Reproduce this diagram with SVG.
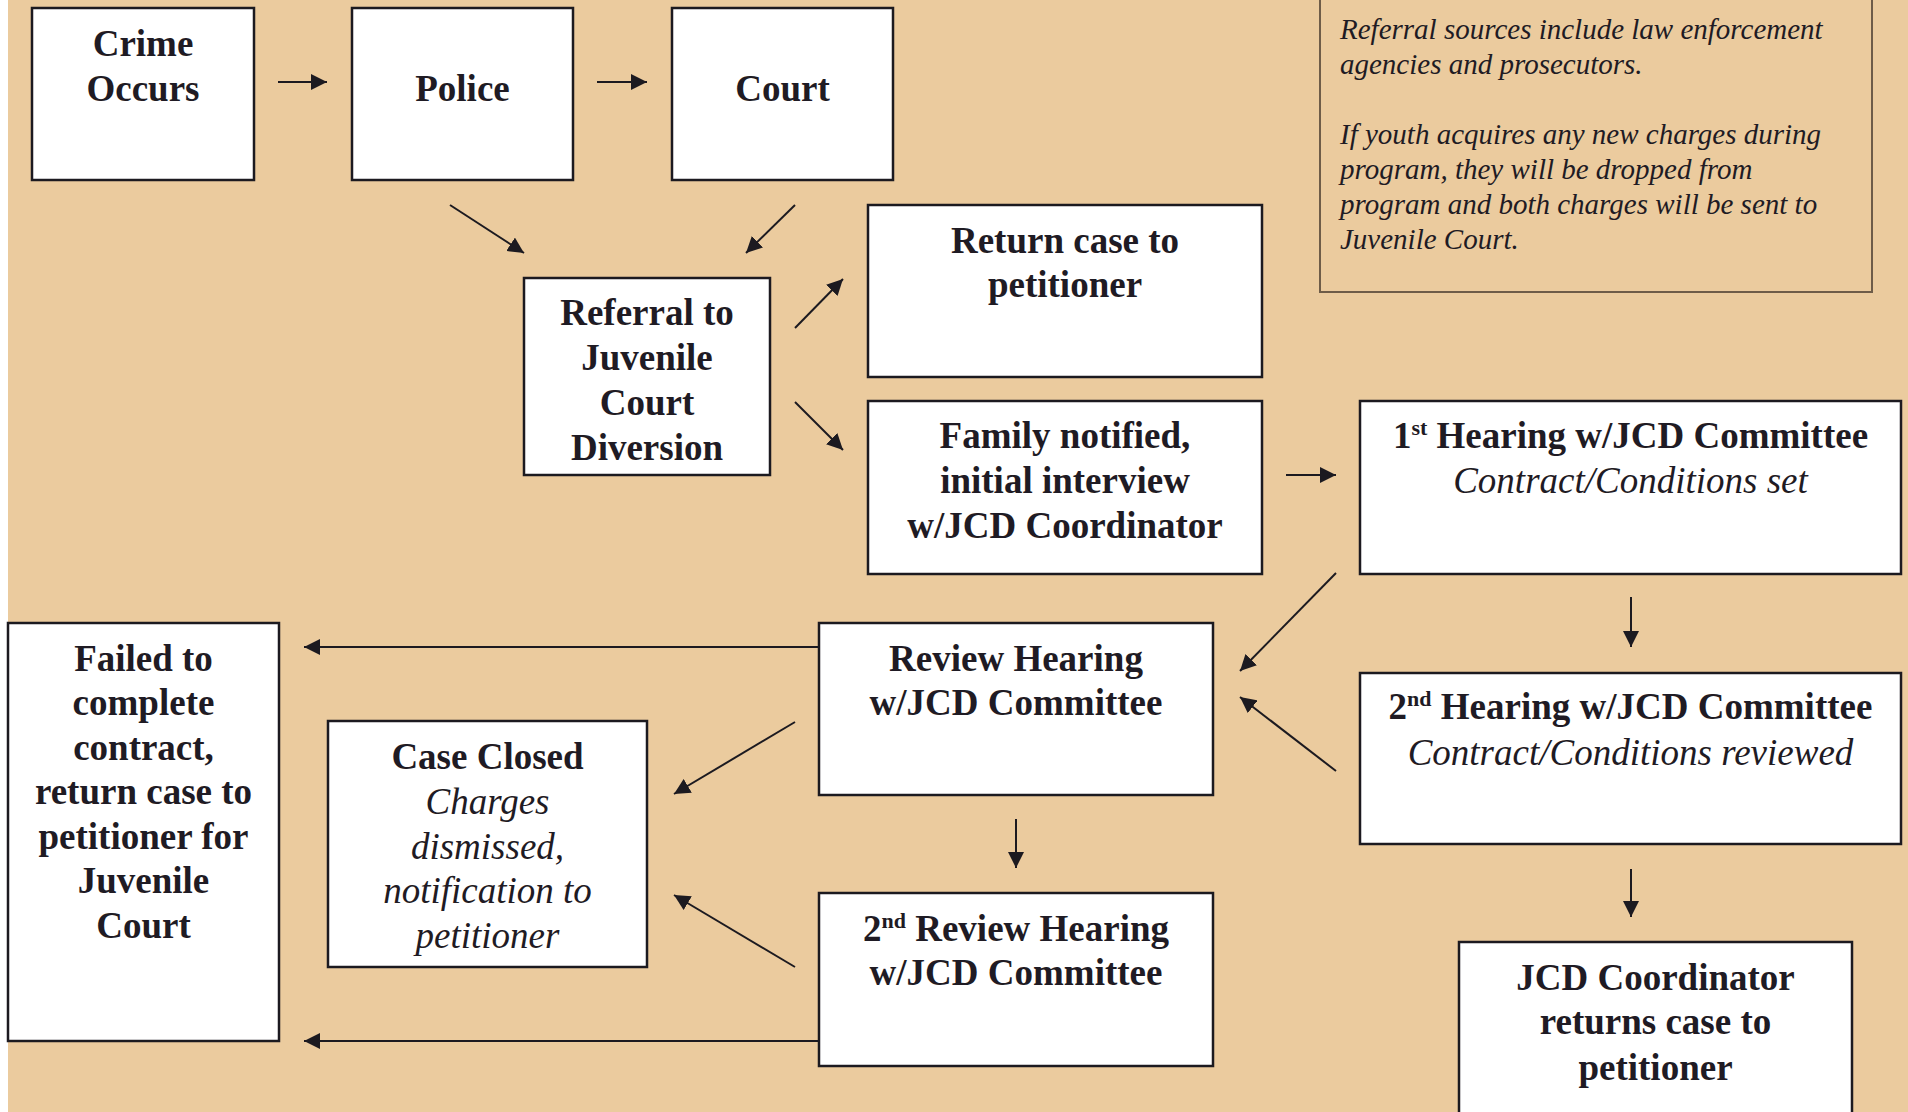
<svg xmlns="http://www.w3.org/2000/svg" width="1908" height="1112" viewBox="0 0 1908 1112">
<defs>
<marker id="ah" viewBox="0 0 16 16" refX="16" refY="8" markerWidth="16" markerHeight="16" markerUnits="userSpaceOnUse" orient="auto">
<path d="M0,0 L16,8 L0,16 z" fill="#1c1a20"/>
</marker>
<style>
.box{fill:#ffffff;stroke:#1c1a20;stroke-width:2.5}
.note{fill:none;stroke:#6e5c48;stroke-width:2}
.b{font-family:"Liberation Serif","Times New Roman",serif;font-weight:bold;font-size:37px;fill:#1f1b24;text-anchor:middle}
.i{font-family:"Liberation Serif","Times New Roman",serif;font-style:italic;font-size:37px;fill:#1f1b24;text-anchor:middle}
.n{font-family:"Liberation Serif","Times New Roman",serif;font-style:italic;font-size:29px;fill:#1f1b24}
.sup{font-size:22px}
.c{stroke:#1c1a20;stroke-width:2;fill:none;marker-end:url(#ah)}
</style>
</defs>
<rect x="0" y="0" width="1908" height="1112" fill="#ffffff"/>
<rect x="8" y="0" width="1900" height="1112" fill="#ebcb9e"/>

<g id="note">
<rect class="note" x="1320" y="-5" width="552" height="297"/>
<text class="n" x="1340" y="39">Referral sources include law enforcement</text>
<text class="n" x="1340" y="74">agencies and prosecutors.</text>
<text class="n" x="1340" y="144">If youth acquires any new charges during</text>
<text class="n" x="1340" y="179">program, they will be dropped from</text>
<text class="n" x="1340" y="214">program and both charges will be sent to</text>
<text class="n" x="1340" y="249">Juvenile Court.</text>
</g>

<g id="crime">
<rect class="box" x="32" y="8" width="222" height="172"/>
<text class="b" x="143" y="56">Crime</text>
<text class="b" x="143" y="101">Occurs</text>
</g>
<g id="police">
<rect class="box" x="352" y="8" width="221" height="172"/>
<text class="b" x="462.5" y="101">Police</text>
</g>
<g id="court">
<rect class="box" x="672" y="8" width="221" height="172"/>
<text class="b" x="782.5" y="101">Court</text>
</g>
<g id="referral">
<rect class="box" x="524" y="278" width="246" height="197"/>
<text class="b" x="647" y="325">Referral to</text>
<text class="b" x="647" y="370">Juvenile</text>
<text class="b" x="647" y="415">Court</text>
<text class="b" x="647" y="460">Diversion</text>
</g>
<g id="return">
<rect class="box" x="868" y="205" width="394" height="172"/>
<text class="b" x="1065" y="253">Return case to</text>
<text class="b" x="1065" y="297">petitioner</text>
</g>
<g id="family">
<rect class="box" x="868" y="401" width="394" height="173"/>
<text class="b" x="1065" y="448">Family notified,</text>
<text class="b" x="1065" y="493">initial interview</text>
<text class="b" x="1065" y="538">w/JCD Coordinator</text>
</g>
<g id="hearing1">
<rect class="box" x="1360" y="401" width="541" height="173"/>
<text class="b" x="1630.5" y="448">1<tspan class="sup" dy="-13">st</tspan><tspan dy="13"> Hearing w/JCD Committee</tspan></text>
<text class="i" x="1630.5" y="493">Contract/Conditions set</text>
</g>
<g id="hearing2">
<rect class="box" x="1360" y="673" width="541" height="171"/>
<text class="b" x="1630.5" y="719">2<tspan class="sup" dy="-13">nd</tspan><tspan dy="13"> Hearing w/JCD Committee</tspan></text>
<text class="i" x="1630.5" y="765">Contract/Conditions reviewed</text>
</g>
<g id="review">
<rect class="box" x="819" y="623" width="394" height="172"/>
<text class="b" x="1016" y="671">Review Hearing</text>
<text class="b" x="1016" y="715">w/JCD Committee</text>
</g>
<g id="review2">
<rect class="box" x="819" y="893" width="394" height="173"/>
<text class="b" x="1016" y="941">2<tspan class="sup" dy="-13">nd</tspan><tspan dy="13"> Review Hearing</tspan></text>
<text class="b" x="1016" y="985">w/JCD Committee</text>
</g>
<g id="jcd">
<rect class="box" x="1459" y="942" width="393" height="200"/>
<text class="b" x="1655.5" y="990">JCD Coordinator</text>
<text class="b" x="1655.5" y="1034">returns case to</text>
<text class="b" x="1655.5" y="1080">petitioner</text>
</g>
<g id="failed">
<rect class="box" x="8" y="623" width="271" height="418"/>
<text class="b" x="143.5" y="671">Failed to</text>
<text class="b" x="143.5" y="715">complete</text>
<text class="b" x="143.5" y="760">contract,</text>
<text class="b" x="143.5" y="804">return case to</text>
<text class="b" x="143.5" y="849">petitioner for</text>
<text class="b" x="143.5" y="893">Juvenile</text>
<text class="b" x="143.5" y="938">Court</text>
</g>
<g id="closed">
<rect class="box" x="328" y="721" width="319" height="246"/>
<text class="b" x="487.5" y="769">Case Closed</text>
<text class="i" x="487.5" y="814">Charges</text>
<text class="i" x="487.5" y="859">dismissed,</text>
<text class="i" x="487.5" y="903">notification to</text>
<text class="i" x="487.5" y="948">petitioner</text>
</g>

<g id="connectors">
<line class="c" x1="278" y1="82" x2="327" y2="82"/>
<line class="c" x1="597" y1="82" x2="647" y2="82"/>
<line class="c" x1="450" y1="205" x2="524" y2="253"/>
<line class="c" x1="795" y1="205" x2="746" y2="253"/>
<line class="c" x1="795" y1="328" x2="843" y2="279"/>
<line class="c" x1="795" y1="402" x2="843" y2="450"/>
<line class="c" x1="1286" y1="475" x2="1336" y2="475"/>
<line class="c" x1="1336" y1="573" x2="1240" y2="671"/>
<line class="c" x1="1631" y1="597" x2="1631" y2="647"/>
<line class="c" x1="1336" y1="771" x2="1240" y2="697"/>
<line class="c" x1="1631" y1="869" x2="1631" y2="917"/>
<line class="c" x1="1016" y1="819" x2="1016" y2="868"/>
<line class="c" x1="819" y1="647" x2="304" y2="647"/>
<line class="c" x1="819" y1="1041" x2="304" y2="1041"/>
<line class="c" x1="795" y1="722" x2="674" y2="794"/>
<line class="c" x1="795" y1="967" x2="674" y2="895"/>
</g>
</svg>
